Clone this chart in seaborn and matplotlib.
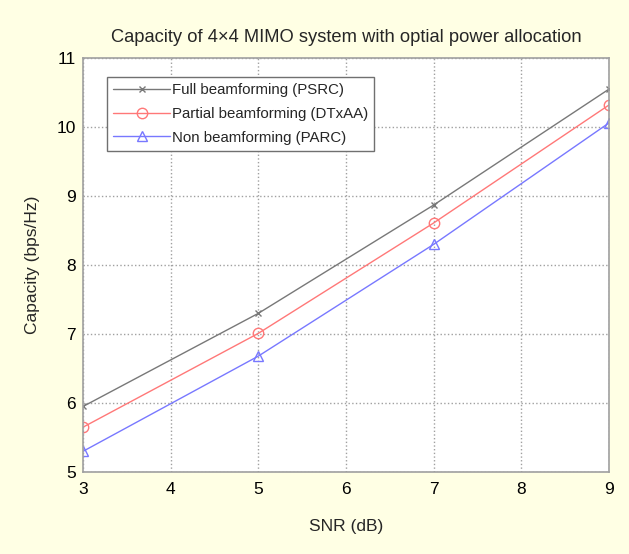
import matplotlib
matplotlib.use("Agg")
import matplotlib.pyplot as plt
import seaborn as sns
import pandas as pd

snr = [3, 5, 7, 9]
full_bf = [5.95, 7.30, 8.87, 10.55]
partial_bf = [5.65, 7.01, 8.61, 10.32]
non_bf = [5.30, 6.68, 8.30, 10.06]
labels = ["Full beamforming (PSRC)", "Partial beamforming (DTxAA)", "Non beamforming (PARC)"]
xticks = [3, 4, 5, 6, 7, 8, 9]
yticks = [5, 6, 7, 8, 9, 10, 11]

sns.set_style("white")
plt.rcParams['font.family'] = ['Liberation Sans', 'DejaVu Sans']

fig = plt.figure(figsize=(6.29, 5.54), dpi=100, facecolor='#ffffe4')
ax = fig.add_axes([0.132, 0.148, 0.836, 0.747])
ax.set_facecolor('white')

styles = [
    dict(color='#787878', marker='x', markersize=4),
    dict(color='#ff7878', marker='o', markersize=7.5),
    dict(color='#7878ff', marker='^', markersize=7.5),
]
for vals, lab, st in zip([full_bf, partial_bf, non_bf], labels, styles):
    df = pd.DataFrame({"SNR": snr, "Cap": vals})
    sns.lineplot(data=df, x="SNR", y="Cap", ax=ax, label=lab, linewidth=1.0,
                 color=st['color'], marker=st['marker'], markersize=st['markersize'],
                 markeredgewidth=1.0, markerfacecolor='none',
                 markeredgecolor=st['color'])

ax.set_xlim(3, 9)
ax.set_ylim(5, 11)
ax.set_xticks(xticks)
ax.set_yticks(yticks)
ax.tick_params(labelsize=12.5, length=3, direction='in', colors='#909090',
               labelcolor='black')
ax.tick_params(axis='x', pad=7)
ax.tick_params(axis='y', pad=5)
ax.grid(True, linestyle=':', color='#a0a0a0', linewidth=1.0)
for s in ax.spines.values():
    s.set_color('#a0a0a0')
    s.set_linewidth(1.2)
ax.set_xlabel("SNR (dB)", fontsize=12.5, labelpad=16)
ax.set_ylabel("Capacity (bps/Hz)", fontsize=12.5, labelpad=12)
ax.set_title("Capacity of 4\u00d74 MIMO system with optial power allocation", fontsize=13.2, pad=12)

leg = ax.legend(loc='upper left', bbox_to_anchor=(0.046, 0.954), fontsize=10.8,
                handlelength=3.8, handletextpad=0.1, borderpad=0.4, labelspacing=0.65,
                borderaxespad=0.0,
                frameon=True, fancybox=False, edgecolor='#707070', framealpha=1)
leg.get_frame().set_linewidth(1.0)

fig.savefig("out.png", dpi=100, facecolor=fig.get_facecolor())
